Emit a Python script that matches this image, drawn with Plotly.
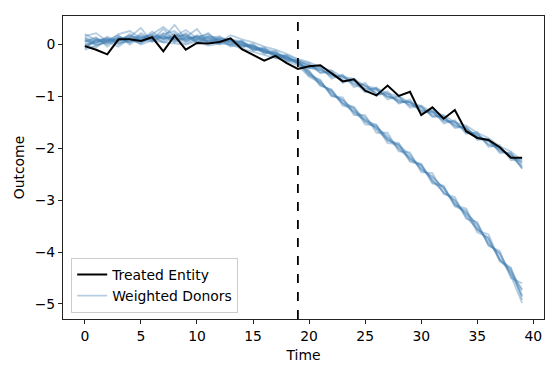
import plotly.graph_objects as go

time = list(range(40))
treatment_start = 19

treated = [-0.03, -0.10, -0.19, 0.10, 0.10, 0.07, 0.14, -0.13, 0.17, -0.10,
           0.03, 0.02, 0.05, 0.12, -0.09, -0.20, -0.31, -0.22, -0.36, -0.47,
           -0.42, -0.40, -0.55, -0.71, -0.67, -0.89, -0.98, -0.79, -0.99, -0.91,
           -1.36, -1.21, -1.43, -1.26, -1.67, -1.80, -1.84, -1.98, -2.18, -2.18]

# donors whose path stays close to the treated unit
donor_a1 = [0.12, 0.02, 0.15, 0.06, 0.20, 0.08, 0.25, 0.10, 0.22, 0.05,
            0.18, 0.14, 0.02, 0.10, 0.06, -0.10, -0.05, -0.24, -0.20, -0.30,
            -0.36, -0.55, -0.50, -0.74, -0.66, -0.90, -0.83, -1.06, -0.99, -1.22,
            -1.18, -1.40, -1.37, -1.61, -1.58, -1.84, -1.82, -2.09, -2.08, -2.38]
donor_a2 = [-0.08, 0.10, 0.00, 0.16, 0.04, 0.22, 0.10, 0.30, 0.08, 0.20,
            0.02, 0.16, 0.12, -0.02, 0.06, -0.12, -0.08, -0.14, -0.30, -0.36,
            -0.46, -0.42, -0.66, -0.58, -0.82, -0.74, -0.99, -0.90, -1.14, -1.06,
            -1.33, -1.26, -1.52, -1.46, -1.72, -1.69, -1.97, -1.94, -2.23, -2.20]
donor_a3 = [0.20, 0.08, 0.12, 0.00, 0.14, 0.32, 0.05, 0.20, 0.26, 0.08,
            0.16, 0.04, 0.14, 0.08, -0.06, 0.02, -0.18, -0.12, -0.28, -0.32,
            -0.40, -0.50, -0.58, -0.62, -0.76, -0.78, -0.95, -0.94, -1.10, -1.10,
            -1.28, -1.28, -1.46, -1.50, -1.64, -1.76, -1.84, -2.06, -2.10, -2.40]
donor_a4 = [-0.02, -0.06, 0.10, 0.02, 0.06, 0.10, 0.18, 0.04, 0.12, 0.22,
            0.06, 0.08, 0.00, 0.12, -0.04, -0.02, -0.14, -0.20, -0.22, -0.38,
            -0.44, -0.47, -0.60, -0.64, -0.68, -0.86, -0.86, -1.02, -1.02, -1.18,
            -1.20, -1.38, -1.40, -1.58, -1.60, -1.80, -1.86, -2.04, -2.12, -2.28]
donor_a5 = [0.06, 0.14, -0.04, 0.12, 0.10, 0.02, 0.16, 0.12, 0.38, 0.10,
            0.14, 0.20, 0.06, 0.00, 0.08, -0.08, -0.10, -0.26, -0.24, -0.34,
            -0.38, -0.54, -0.54, -0.70, -0.70, -0.80, -0.94, -0.96, -1.12, -1.10,
            -1.30, -1.30, -1.48, -1.48, -1.70, -1.72, -1.94, -1.98, -2.18, -2.26]
donor_a6 = [0.00, 0.04, 0.08, 0.18, 0.00, 0.14, 0.08, 0.16, 0.06, 0.14,
            0.30, 0.02, 0.10, 0.06, 0.02, -0.06, -0.16, -0.16, -0.32, -0.30,
            -0.42, -0.46, -0.62, -0.60, -0.78, -0.84, -0.86, -1.00, -1.06, -1.16,
            -1.22, -1.36, -1.40, -1.56, -1.62, -1.78, -1.86, -2.02, -2.14, -2.32]
donor_a7 = [0.10, -0.02, 0.06, 0.10, 0.16, 0.06, 0.12, 0.22, 0.10, 0.02,
            0.10, 0.12, 0.16, 0.02, -0.02, -0.04, -0.12, -0.22, -0.26, -0.36,
            -0.45, -0.50, -0.54, -0.68, -0.72, -0.92, -0.88, -1.00, -1.08, -1.12,
            -1.26, -1.32, -1.44, -1.54, -1.64, -1.74, -1.92, -2.00, -2.16, -2.36]
donor_a8 = [0.16, 0.22, 0.06, 0.20, 0.26, 0.12, 0.20, 0.34, 0.16, 0.28,
            0.12, 0.22, 0.04, 0.18, 0.10, 0.04, -0.04, -0.10, -0.18, -0.28,
            -0.34, -0.44, -0.50, -0.62, -0.66, -0.80, -0.84, -0.94, -1.00, -1.12,
            -1.18, -1.30, -1.36, -1.50, -1.56, -1.70, -1.80, -1.96, -2.06, -2.24]

# donors that fall away after the treatment date
donor_b1 = [0.04, 0.12, 0.02, 0.08, 0.14, 0.16, 0.10, 0.06, 0.18, 0.16,
            0.08, 0.10, 0.04, 0.08, 0.04, -0.06, -0.14, -0.18, -0.24, -0.34,
            -0.50, -0.80, -0.86, -1.18, -1.22, -1.54, -1.56, -1.90, -1.92, -2.26,
            -2.32, -2.68, -2.74, -3.12, -3.20, -3.62, -3.72, -4.18, -4.32, -4.92]
donor_b2 = [-0.04, 0.06, 0.12, 0.04, 0.08, 0.04, 0.14, 0.18, 0.04, 0.12,
            0.16, 0.06, 0.10, -0.04, 0.00, -0.02, -0.10, -0.20, -0.22, -0.36,
            -0.60, -0.68, -1.00, -1.02, -1.36, -1.36, -1.70, -1.70, -2.06, -2.08,
            -2.46, -2.48, -2.88, -2.94, -3.36, -3.42, -3.88, -3.98, -4.50, -4.60]
donor_b3 = [0.08, 0.00, 0.04, 0.14, 0.12, 0.10, 0.20, 0.12, 0.14, 0.06,
            0.10, 0.16, 0.08, 0.04, 0.00, -0.08, -0.08, -0.22, -0.28, -0.32,
            -0.52, -0.76, -0.90, -1.12, -1.28, -1.40, -1.64, -1.84, -1.94, -2.12,
            -2.42, -2.54, -2.78, -3.06, -3.24, -3.46, -3.86, -4.02, -4.46, -4.98]
donor_b4 = [0.00, 0.08, 0.06, 0.10, 0.04, 0.18, 0.12, 0.10, 0.16, 0.18,
            0.04, 0.08, 0.12, 0.08, -0.02, -0.04, -0.14, -0.16, -0.28, -0.34,
            -0.58, -0.72, -0.96, -1.08, -1.24, -1.50, -1.60, -1.76, -2.02, -2.20,
            -2.32, -2.62, -2.84, -3.00, -3.32, -3.56, -3.74, -4.14, -4.36, -4.72]
donor_b5 = [0.14, 0.04, 0.10, 0.06, 0.18, 0.08, 0.06, 0.16, 0.10, 0.14,
            0.12, 0.04, 0.06, 0.10, 0.02, -0.10, -0.12, -0.18, -0.24, -0.36,
            -0.54, -0.78, -0.88, -1.14, -1.30, -1.44, -1.58, -1.82, -2.00, -2.16,
            -2.40, -2.56, -2.76, -3.08, -3.26, -3.48, -3.84, -4.04, -4.40, -4.84]
donor_b6 = [-0.06, 0.10, 0.08, 0.12, 0.10, 0.14, 0.16, 0.12, 0.12, 0.10,
            0.14, 0.12, 0.08, 0.04, 0.04, -0.02, -0.12, -0.20, -0.26, -0.32,
            -0.56, -0.70, -0.98, -1.06, -1.32, -1.46, -1.62, -1.80, -1.96, -2.20,
            -2.36, -2.60, -2.86, -3.00, -3.30, -3.54, -3.78, -4.12, -4.42, -4.74]
donor_b7 = [-0.10, -0.02, 0.06, -0.04, 0.12, 0.00, 0.08, 0.04, 0.02, 0.00,
            0.06, -0.02, 0.02, 0.00, -0.08, -0.14, -0.20, -0.26, -0.32, -0.40,
            -0.62, -0.74, -0.92, -1.14, -1.20, -1.48, -1.54, -1.86, -1.90, -2.24,
            -2.30, -2.66, -2.72, -3.10, -3.16, -3.58, -3.66, -4.16, -4.30, -4.86]

donors = [donor_a1, donor_a2, donor_a3, donor_a4, donor_a5, donor_a6, donor_a7,
          donor_a8, donor_b1, donor_b2, donor_b3, donor_b4, donor_b5, donor_b6,
          donor_b7]

x_ticks = [0, 5, 10, 15, 20, 25, 30, 35, 40]
y_ticks = [0, -1, -2, -3, -4, -5]

FONT = "DejaVu Sans"
SIZE = 13.9

fig = go.Figure()

for i, series in enumerate(donors):
    fig.add_trace(go.Scatter(
        x=time, y=series, mode="lines", name="Weighted Donors",
        line=dict(color="rgba(70,130,180,0.4)", width=1.8),
        legendgroup="donors", showlegend=(i == 0), legendrank=2,
        hoverinfo="skip",
    ))

fig.add_trace(go.Scatter(
    x=time, y=treated, mode="lines", name="Treated Entity",
    line=dict(color="black", width=2), legendrank=1,
))

fig.add_shape(type="line", x0=treatment_start, x1=treatment_start,
              y0=0, y1=1, xref="x", yref="paper",
              line=dict(color="black", width=1.8, dash="dash"))

axis_common = dict(
    showgrid=False, zeroline=False, showline=True, mirror=True,
    linecolor="#222", linewidth=1, ticks="outside", ticklen=4,
    tickcolor="#222", tickwidth=1,
    tickfont=dict(family=FONT, size=SIZE, color="black"),
)

fig.update_xaxes(range=[-1.95, 40.95], tickvals=x_ticks,
                 title=dict(text="Time", standoff=7,
                            font=dict(family=FONT, size=SIZE, color="black")),
                 **axis_common)
fig.update_yaxes(range=[-5.29, 0.55], tickvals=y_ticks,
                 title=dict(text="Outcome", standoff=6,
                            font=dict(family=FONT, size=SIZE, color="black")),
                 **axis_common)

fig.update_layout(
    width=545, height=368,
    margin=dict(l=63, r=1, t=16, b=49),
    paper_bgcolor="white", plot_bgcolor="white",
    font=dict(family=FONT, size=SIZE, color="black"),
    legend=dict(
        x=0.017, y=0.02, xanchor="left", yanchor="bottom",
        bgcolor="rgba(255,255,255,0.8)", bordercolor="#cccccc", borderwidth=1,
        font=dict(family=FONT, size=SIZE, color="black"),
        itemwidth=30, tracegroupgap=0,
    ),
)

fig.write_html("out.html")
